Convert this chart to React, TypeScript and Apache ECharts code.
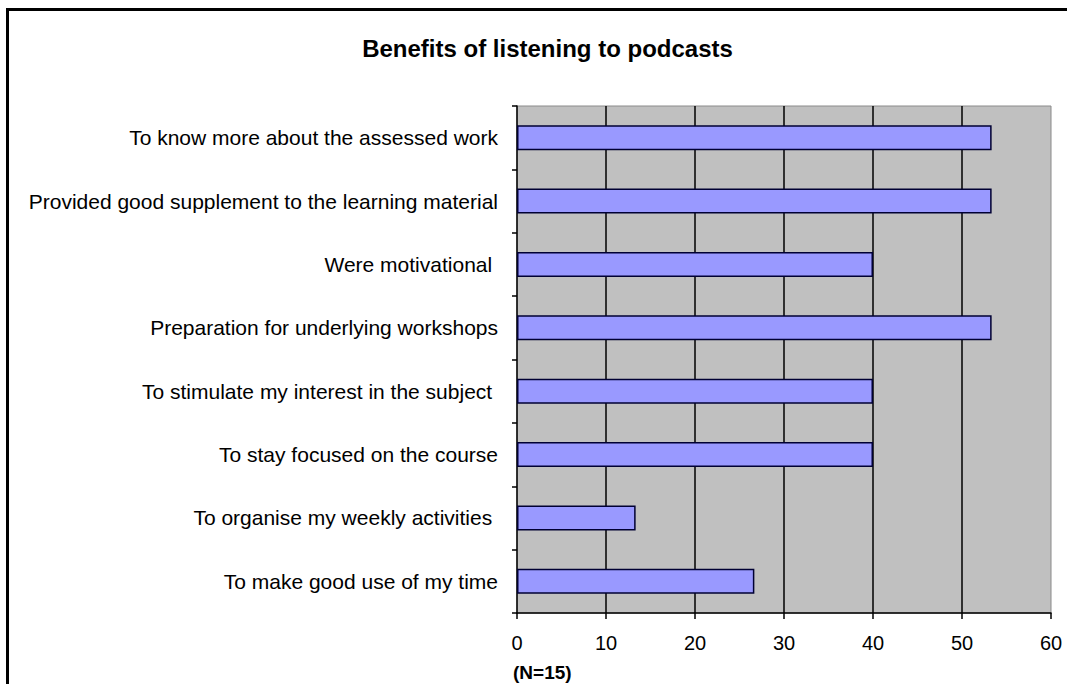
import React, { useEffect, useRef } from "react";
import * as echarts from "echarts";

const titleText = "Benefits of listening to podcasts";
const noteText = "(N=15)";
const categories = [
  "To know more about the assessed work",
  "Provided good supplement to the learning material",
  "Were motivational ",
  "Preparation for underlying workshops",
  "To stimulate my interest in the subject ",
  "To stay focused on the course",
  "To organise my weekly activities ",
  "To make good use of my time",
];
const values = [53.33, 53.33, 40, 53.33, 40, 40, 13.33, 26.67];
const xMin = 0;
const xMax = 60;
const xInterval = 10;

const FONT = 'Arial, "Liberation Sans", sans-serif';

export default function App() {
  const ref = useRef<HTMLDivElement>(null);
  useEffect(() => {
    if (!ref.current) return;
    const chart = echarts.init(ref.current, undefined, { renderer: "svg" });
    chart.setOption({
      animation: false,
      backgroundColor: "#ffffff",
      grid: {
        left: 517,
        right: 16,
        top: 106,
        bottom: 71,
        show: true,
        backgroundColor: "#C0C0C0",
        borderColor: "#8a8a8a",
        borderWidth: 1,
      },
      xAxis: {
        type: "value",
        min: xMin,
        max: xMax,
        interval: xInterval,
        axisLine: { show: true, lineStyle: { color: "#000", width: 1.5 } },
        axisTick: { show: true, length: 6, lineStyle: { color: "#000", width: 1.5 } },
        axisLabel: { color: "#000", fontSize: 20, fontFamily: FONT, margin: 20 },
        splitLine: {
          show: true,
          showMinLine: false,
          showMaxLine: false,
          lineStyle: { color: "#000", width: 1.5 },
        },
      },
      yAxis: {
        type: "category",
        inverse: true,
        data: categories,
        axisLine: { show: true, lineStyle: { color: "#000", width: 1.5 } },
        axisTick: { show: true, length: 5, lineStyle: { color: "#000", width: 1.5 } },
        axisLabel: { color: "#000", fontSize: 21, fontFamily: FONT, margin: 19 },
        splitLine: { show: false },
      },
      series: [
        {
          type: "bar",
          data: values,
          barWidth: 25,
          itemStyle: { color: "#9999FF", borderColor: "#000033", borderWidth: 1.5 },
        },
      ],
      graphic: [
        {
          type: "rect",
          shape: { x: 7.5, y: 9.5, width: 1200, height: 800 },
          style: { fill: "none", stroke: "#000", lineWidth: 3 },
          silent: true,
        },
        {
          type: "text",
          x: 547.5,
          y: 48,
          style: {
            text: titleText,
            fill: "#000",
            font: `bold 24px ${FONT}`,
            align: "center",
            verticalAlign: "middle",
          },
        },
        {
          type: "text",
          x: 513,
          y: 672,
          style: {
            text: noteText,
            fill: "#000",
            font: `bold 19px ${FONT}`,
            align: "left",
            verticalAlign: "middle",
          },
        },
      ],
    });
    return () => chart.dispose();
  }, []);
  return (
    <div
      ref={ref}
      style={{ position: "fixed", left: 0, top: 0, width: 1067, height: 684 }}
    />
  );
}
